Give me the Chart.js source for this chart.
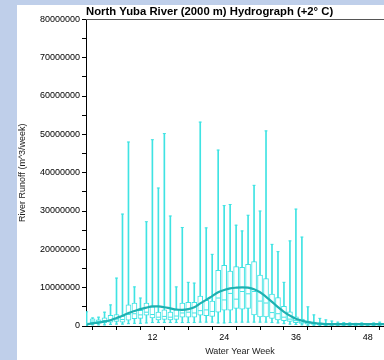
<!DOCTYPE html>
<html>
<head>
<meta charset="utf-8">
<script src="https://cdn.jsdelivr.net/npm/chart.js@4.4.1/dist/chart.umd.min.js"></script>
<style>
html, body { margin: 0; padding: 0; overflow: hidden; background: #bfcfea; width: 384px; height: 360px; }
#wrap { position: absolute; left: 17px; top: 5px; width: 382px; height: 355px; background: #fff; }
</style>
</head>
<body>
<div id="wrap"><canvas id="hydroChart"></canvas></div>
<script>
// water year weeks 1..52, runoff values in millions of m^3/week
var weeks = [1,2,3,4,5,6,7,8,9,10,11,12,13,14,15,16,17,18,19,20,21,22,23,24,25,26,
             27,28,29,30,31,32,33,34,35,36,37,38,39,40,41,42,43,44,45,46,47,48,49,50,51,52];
var whiskerLow = [0.1,0.3,0.3,0.3,0.4,0.5,0.5,0.6,0.7,0.7,0.8,0.9,0.9,0.9,0.9,0.9,0.9,0.9,0.9,1.0,1.0,1.0,0.8,0.8,0.9,1.0,
                  1.0,1.0,1.0,1.0,1.0,0.9,0.8,0.6,0.5,0.4,0.3,0.2,0.2,0.1,0.1,0.1,0.1,0.1,0.1,0.1,0.1,0.1,0.1,0.1,0.1,0.1];
var boxLow = [0.3,0.9,0.8,0.9,1.0,1.2,1.0,1.5,1.9,2.0,2.8,2.1,1.6,1.7,1.6,1.7,2.3,2.3,2.3,2.8,2.7,2.5,3.6,4.1,4.1,4.6,
              4.4,4.6,2.9,2.4,2.4,2.0,1.6,1.4,1.2,0.9,0.7,0.5,0.4,0.3,0.2,0.2,0.2,0.2,0.2,0.2,0.2,0.2,0.2,0.2,0.2,0.2];
var median = [0.5,1.3,1.2,1.4,1.6,1.8,1.7,3.0,3.2,2.9,3.6,3.0,2.3,2.5,2.3,2.6,3.4,3.6,3.4,4.0,4.2,3.8,7.3,6.8,8.5,7.0,
              9.0,8.4,9.0,6.5,6.0,3.5,3.2,2.3,1.8,1.4,1.0,0.8,0.6,0.5,0.35,0.35,0.35,0.35,0.3,0.3,0.3,0.3,0.3,0.35,0.35,0.35];
var boxHigh = [0.8,1.9,1.6,2.1,2.8,3.0,2.6,5.5,6.0,4.1,6.0,5.0,3.6,4.2,3.6,4.2,6.0,6.2,6.2,7.8,6.7,6.5,14.5,15.8,14.3,15.5,
               15.3,16.1,16.8,13.3,12.4,8.3,7.4,5.1,3.7,2.4,1.8,1.3,1.0,0.8,0.6,0.5,0.5,0.5,0.5,0.5,0.5,0.5,0.5,0.6,0.6,0.6];
var whiskerHigh = [3.7,2.1,2.3,3.6,5.5,12.5,29.2,48.0,10.2,7.3,27.2,48.6,36.0,50.2,28.7,10.2,25.7,11.4,11.2,53.2,25.6,18.7,45.9,31.4,31.7,26.3,
                   24.8,28.9,36.7,30.0,50.9,21.3,19.4,11.4,22.2,30.5,23.2,5.0,2.9,2.0,1.6,1.3,1.0,0.9,0.8,0.7,0.8,0.6,0.8,1.0,1.2,1.0];
var meanRunoff = [0.4,0.7,0.9,1.2,1.5,2.1,2.7,3.4,3.9,4.4,4.8,5.1,5.1,4.9,4.6,4.3,4.2,4.4,4.9,5.9,6.8,7.8,8.8,9.4,9.8,10.0,
                  10.1,10.0,9.6,8.8,7.6,6.3,4.9,3.7,2.7,1.9,1.4,1.0,0.8,0.6,0.5,0.5,0.5,0.5,0.5,0.5,0.5,0.5,0.5,0.5,0.5,0.5];
var yTicks = [0,10000000,20000000,30000000,40000000,50000000,60000000,70000000,80000000];
var xTicks = [12,24,36,48];

var M = 1000000;
var fontFam = 'Liberation Sans, Arial, sans-serif';
var cyan = '#3fe3e3';

function pairs(lo, hi) {
  return weeks.map(function(w, i) { return { x: w, y: [lo[i] * M, hi[i] * M] }; });
}
function points(arr) {
  return weeks.map(function(w, i) { return { x: w, y: arr[i] * M }; });
}

var framePlugin = {
  id: 'frame',
  afterDraw: function(chart) {
    var a = chart.chartArea, c = chart.ctx;
    c.save();
    c.strokeStyle = '#555';
    c.lineWidth = 1;
    c.beginPath();
    c.moveTo(a.left, Math.round(a.top) + 0.5);
    c.lineTo(a.right, Math.round(a.top) + 0.5);
    c.lineTo(a.right, a.bottom);
    c.stroke();
    c.restore();
  }
};

var ctx = document.getElementById('hydroChart');
var chart = new Chart(ctx, {
  type: 'bar',
  data: {
    datasets: [
      {
        type: 'line',
        data: points(meanRunoff),
        borderColor: '#1eb1b1',
        borderWidth: 2.2,
        pointRadius: 0,
        tension: 0.4,
        order: 1
      },
      {
        type: 'line',
        data: points(median),
        showLine: false,
        pointStyle: 'line',
        pointRadius: 2,
        pointBorderWidth: 1,
        pointBorderColor: cyan,
        order: 2
      },
      {
        data: pairs(boxLow, boxHigh),
        grouped: false,
        barThickness: 5,
        backgroundColor: '#fff',
        borderColor: cyan,
        borderWidth: 1,
        borderSkipped: false,
        order: 3
      },
      {
        type: 'line',
        data: points(whiskerHigh).concat(points(whiskerLow)),
        showLine: false,
        pointStyle: 'line',
        pointRadius: 1.5,
        pointBorderWidth: 1,
        pointBorderColor: cyan,
        order: 4
      },
      {
        data: pairs(whiskerLow, whiskerHigh),
        grouped: false,
        barThickness: 1,
        backgroundColor: cyan,
        borderWidth: 0,
        order: 5
      }
    ]
  },
  options: {
    responsive: true,
    maintainAspectRatio: false,
    animation: false,
    events: [],
    layout: { padding: { left: 0, right: 2, top: 0, bottom: 0 } },
    plugins: {
      legend: { display: false },
      tooltip: { enabled: false },
      title: {
        display: true,
        text: 'North Yuba River (2000 m) Hydrograph (+2\u00b0 C)',
        align: 'start',
        fullSize: false,
        color: '#000',
        font: { family: fontFam, size: 11.3, weight: 'bold', lineHeight: 1.27 },
        padding: { top: 0, bottom: 0 }
      }
    },
    scales: {
      x: {
        type: 'linear',
        min: 0.9,
        max: 52.4,
        offset: false,
        afterBuildTicks: function(scale) {
          var t = [];
          for (var v = 4; v <= 52; v += 4) t.push({ value: v });
          scale.ticks = t;
        },
        afterFit: function(scale) { scale.height = 34; },
        ticks: {
          color: '#000',
          font: { family: fontFam, size: 9 },
          padding: 2,
          maxRotation: 0,
          callback: function(v) { return xTicks.indexOf(v) >= 0 ? String(v) : ''; }
        },
        grid: { drawOnChartArea: false, drawTicks: true, tickLength: 4, tickColor: '#000' },
        border: { color: '#000', width: 1 },
        title: {
          display: true,
          text: 'Water Year Week',
          color: '#222',
          font: { family: fontFam, size: 9 },
          padding: { top: 0, bottom: 3 }
        }
      },
      y: {
        min: 0,
        max: 80000000,
        afterBuildTicks: function(scale) {
          var t = [];
          for (var v = 0; v <= 80000000; v += 5000000) t.push({ value: v });
          scale.ticks = t;
        },
        afterFit: function(scale) { scale.width = 69; },
        ticks: {
          color: '#000',
          font: { family: fontFam, size: 9 },
          padding: 2,
          callback: function(v) { return yTicks.indexOf(v) >= 0 ? String(v) : ''; }
        },
        grid: { drawOnChartArea: false, drawTicks: true, tickLength: 4, tickColor: '#000' },
        border: { color: '#000', width: 1 },
        title: {
          display: true,
          text: 'River Runoff (m^3/week)',
          color: '#222',
          font: { family: fontFam, size: 9 },
          padding: { top: 0, bottom: 0 }
        }
      }
    }
  },
  plugins: [framePlugin]
});
</script>
</body>
</html>
